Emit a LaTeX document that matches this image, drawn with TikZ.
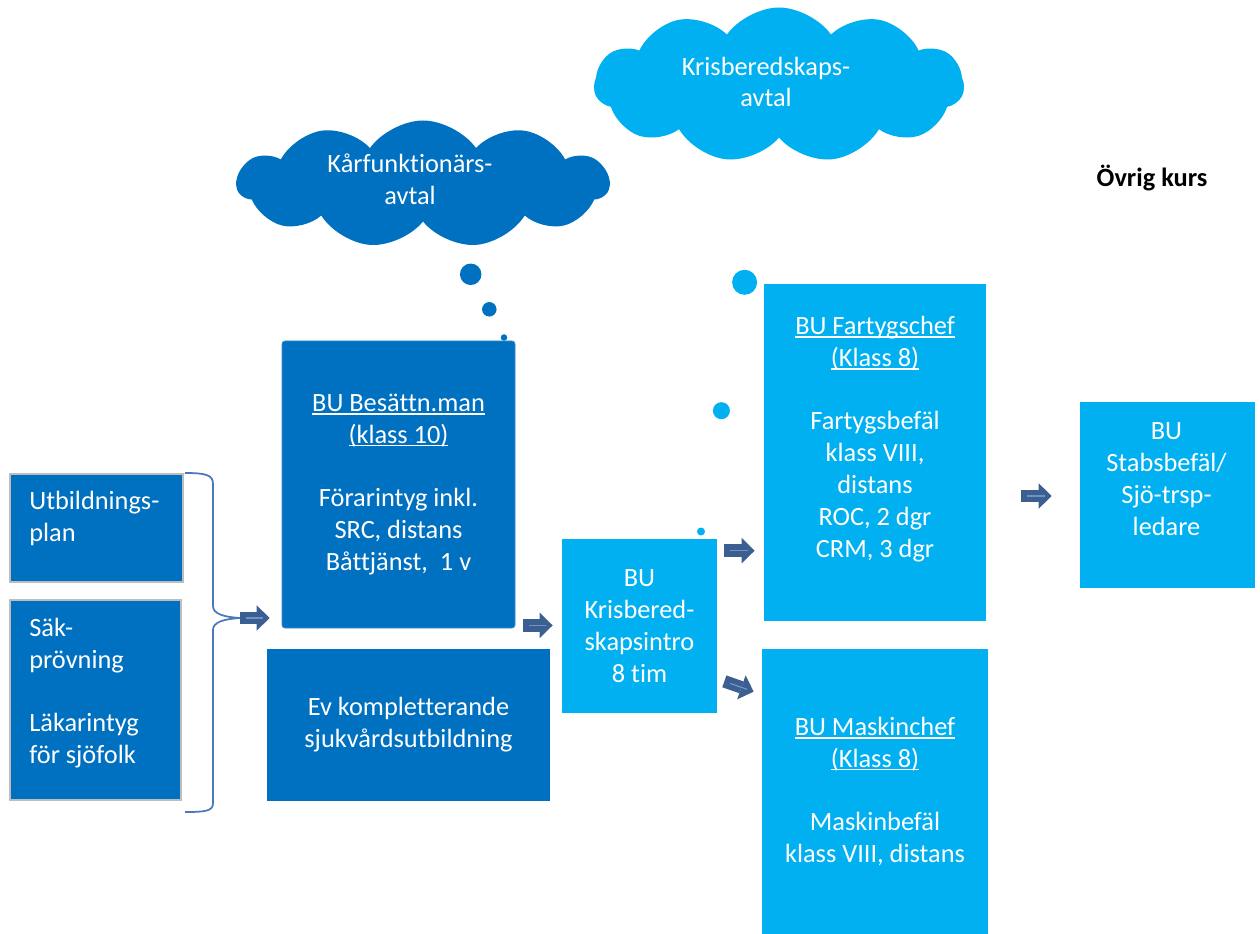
\documentclass[tikz,border=0pt]{standalone}
\usepackage{fontspec}
\setmainfont{Carlito}[Ligatures=NoCommon]
\usetikzlibrary{positioning, arrows.meta, shapes.symbols, calc}
\definecolor{morkbla}{HTML}{0070C0}
\definecolor{ljusbla}{HTML}{00B0F0}
\definecolor{pilbla}{HTML}{3C5F91}
\definecolor{strimfarg}{HTML}{6F93C7}
\definecolor{klammerfarg}{HTML}{4A78BC}
\definecolor{ramfarg}{HTML}{BDBDBD}
\newcommand{\understr}[1]{\setbox0\hbox{#1}\rlap{\rule[-1.8pt]{\wd0}{0.8pt}}\box0}

\begin{document}
\begin{tikzpicture}[
    x=0.2mm, y=-0.2mm,
    box/.style={rectangle, inner sep=0pt},
    morkbox/.style={box, fill=morkbla},
    ljusbox/.style={box, fill=ljusbla},
    ramad/.style={morkbox, draw=ramfarg, line width=0.4mm},
    txt/.style={text=white, align=center, inner sep=0pt, font=\fontsize{15}{18.1}\selectfont},
    moln/.style={cloud, cloud puffs=11, cloud puff arc=110, inner sep=0pt},
    bubbla/.style={circle, inner sep=0pt},
    klammer/.style={draw=klammerfarg, line width=0.35mm},
    pil/.style={draw=pilbla, line width=2.5mm, -{Triangle[length=2.6mm, width=5.1mm, line width=0pt]},
        postaction={draw=strimfarg, line width=0.25mm, -, shorten <=1.2mm, shorten >=1.4mm}}
]
    \useasboundingbox (0,0) rectangle (1260,934);

    % Moln
    \node[moln, fill=morkbla, aspect=2.9, minimum width=74.4mm, minimum height=25.4mm] (molnKar) at (423,184) {};
    \node[txt] (molnKarT) at (410,179) {Kårfunktionärs-\\avtal};
    \node[moln, fill=ljusbla, aspect=2.4, minimum width=74mm, minimum height=31mm] (molnKris) at (779,85) {};
    \node[txt] (molnKrisT) at (766,82) {Krisberedskaps-\\avtal};

    \node[font=\fontsize{15}{18.1}\selectfont\bfseries, anchor=base, inner sep=0pt] (ovrig) at (1152,187) {Övrig kurs};

    % Rutor
    \node[ramad, minimum width=34.6mm, minimum height=21.6mm] (utb) at (96.5,528) {};
    \node[txt, anchor=west, align=left] (utbT) at (29,518.5) {Utbildnings-\\plan};
    \node[ramad, minimum width=34.2mm, minimum height=40mm] (sak) at (95.5,700) {};
    \node[txt, anchor=west, align=left] (sakT) at (29,693) {Säk-\\prövning\\[18.1pt]Läkarintyg\\för sjöfolk};

    \node[morkbox, txt, draw=morkbla!80!white, line width=0.15mm, rounded corners=0.6mm,
        minimum width=46.6mm, minimum height=57.4mm] (bes) at (398.5,484.5)
        {\understr{BU Besättn.man}\\\understr{(klass 10)}\\[18.1pt]Förarintyg inkl.\\SRC, distans\\Båttjänst,\ \ 1 v};
    \node[morkbox, txt, minimum width=56.6mm, minimum height=30.4mm] (ev) at (408.5,725)
        {Ev kompletterande\\sjukvårdsutbildning};

    \node[ljusbox, txt, minimum width=31mm, minimum height=34.8mm] (kris) at (639.5,626)
        {BU\\Krisbered-\\skapsintro\\8 tim};

    \node[ljusbox, minimum width=44.4mm, minimum height=67.4mm] (fart) at (875,452.5) {};
    \node[txt] (fartT) at (875,439)
        {\understr{BU Fartygschef}\\\understr{(Klass 8)}\\[18.1pt]Fartygsbefäl\\klass VIII,\\distans\\ROC, 2 dgr\\CRM, 3 dgr};
    \node[ljusbox, txt, minimum width=45.2mm, minimum height=57mm] (mask) at (875,791.5)
        {\understr{BU Maskinchef}\\\understr{(Klass 8)}\\[18.1pt]Maskinbefäl\\klass VIII, distans};

    \node[ljusbox, minimum width=35mm, minimum height=37.2mm] (stabs) at (1167.5,495) {};
    \node[txt] (stabsT) at (1166.5,479) {BU\\Stabsbefäl/\\Sjö-trsp-\\ledare};

    % Bubblor
    \node[bubbla, fill=morkbla, minimum size=4.3mm] (kb1) at (470.7,274.3) {};
    \node[bubbla, fill=morkbla, minimum size=2.9mm] (kb2) at (489.3,309.3) {};
    \node[bubbla, fill=morkbla, minimum size=1.3mm] (kb3) at (504,337.5) {};
    \node[bubbla, fill=ljusbla, minimum size=5mm] (lb1) at (744.6,282.3) {};
    \node[bubbla, fill=ljusbla, minimum size=3.4mm] (lb2) at (721.4,410.7) {};
    \node[bubbla, fill=ljusbla, minimum size=1.6mm] (lb3) at (701,531.5) {};

    % Klammer
    \coordinate (tip) at (240,618);
    \draw[klammer] (185,473) .. controls (206,473) and (213,475) .. (213,484) -- (213,606)
        .. controls (213,614) and (224,617) .. (tip)
        .. controls (224,619) and (213,622) .. (213,630) -- (213,803)
        .. controls (213,811) and (206,812) .. (185,812);

    % Pilar
    \draw[pil] (tip) -- ($(tip -| bes.west)+(-12,0)$);
    \draw[pil] ($(bes.south east)+(8,-3)$) -- ($(bes.south east -| kris.west)+(-9,-3)$);
    \draw[pil] ($(kris.north east)+(7,12)$) -- ($(kris.north east -| fart.west)+(-9,12)$);
    \draw[pil] ($(kris.south east)+(7,-32)$) -- ($(mask.north west)+(-8,43)$);
    \draw[pil] ($(fart.east |- stabs.west)+(35,1)$) -- ($(stabs.west)+(-28,1)$);
\end{tikzpicture}
\end{document}
